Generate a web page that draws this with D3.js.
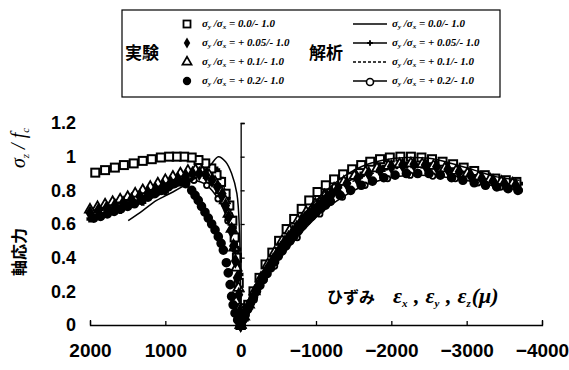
<!DOCTYPE html>
<html>
<head>
<meta charset="utf-8">
<script src="https://cdn.jsdelivr.net/npm/d3@7/dist/d3.min.js"></script>
<style>
  body { margin: 0; background: #fff; }
  svg { display: block; }
</style>
</head>
<body>
<script>
// strain (micro) vs axial stress ratio
// L = lateral strain branch (plotted on the + side), R = axial strain branch

// experiment
var expSquareL = [[0,0],[10,0.1],[25,0.25],[50,0.4],[80,0.52],[110,0.62],[150,0.71],[200,0.78],[260,0.85],[320,0.89],[390,0.93],[470,0.96],[560,0.98],[650,0.995],[750,1.0],[850,1.0],[950,1.0],[1060,0.995],[1180,0.985],[1300,0.975],[1420,0.96],[1550,0.95],[1670,0.935],[1800,0.92],[1930,0.905]];
var expSquareR = [[0,0],[-40,0.05],[-100,0.12],[-170,0.2],[-250,0.28],[-330,0.36],[-420,0.43],[-510,0.5],[-610,0.57],[-710,0.63],[-810,0.69],[-910,0.74],[-1020,0.79],[-1130,0.83],[-1240,0.865],[-1360,0.895],[-1480,0.925],[-1600,0.95],[-1720,0.97],[-1850,0.985],[-1980,0.995],[-2120,1.0],[-2260,1.0],[-2400,0.995],[-2540,0.985],[-2680,0.97],[-2820,0.955],[-2960,0.935],[-3100,0.915],[-3240,0.89],[-3380,0.87],[-3520,0.86],[-3660,0.85]];

var expDiamondL = [[0,0],[10,0.08],[25,0.18],[45,0.28],[70,0.38],[95,0.47],[125,0.56],[160,0.64],[200,0.71],[250,0.77],[310,0.82],[380,0.86],[460,0.89],[550,0.9],[640,0.9],[730,0.885],[830,0.865],[930,0.845],[1030,0.825],[1130,0.805],[1230,0.785],[1340,0.765],[1450,0.745],[1560,0.725],[1670,0.71],[1780,0.695],[1890,0.68],[2000,0.665]];
var expDiamondR = [[0,0],[-25,0.025],[-50,0.05],[-85,0.085],[-120,0.12],[-160,0.16],[-200,0.2],[-245,0.24],[-290,0.28],[-335,0.315],[-380,0.35],[-430,0.385],[-480,0.42],[-530,0.455],[-580,0.49],[-635,0.52],[-690,0.55],[-745,0.58],[-800,0.61],[-855,0.635],[-910,0.66],[-970,0.685],[-1030,0.71],[-1090,0.735],[-1150,0.76],[-1215,0.78],[-1280,0.8],[-1410,0.84],[-1550,0.87],[-1700,0.9],[-1850,0.92],[-2000,0.94],[-2150,0.95],[-2300,0.955],[-2450,0.95],[-2600,0.94],[-2750,0.925],[-2900,0.91],[-3050,0.89],[-3200,0.87],[-3350,0.855],[-3500,0.84],[-3650,0.83]];

var expTriangleL = [[0,0],[12,0.1],[30,0.22],[55,0.34],[85,0.46],[120,0.57],[160,0.66],[210,0.74],[270,0.8],[340,0.85],[420,0.89],[510,0.91],[600,0.92],[700,0.915],[800,0.9],[900,0.88],[1000,0.86],[1100,0.84],[1200,0.82],[1300,0.8],[1400,0.78],[1500,0.76],[1600,0.745],[1700,0.73],[1800,0.715],[1900,0.7],[2000,0.685]];
var expTriangleR = [[0,0],[-45,0.05],[-110,0.12],[-185,0.2],[-270,0.28],[-360,0.36],[-450,0.43],[-550,0.5],[-650,0.56],[-760,0.62],[-870,0.67],[-990,0.72],[-1110,0.77],[-1240,0.81],[-1370,0.85],[-1510,0.885],[-1660,0.91],[-1810,0.93],[-1960,0.945],[-2110,0.955],[-2260,0.96],[-2410,0.955],[-2560,0.945],[-2710,0.93],[-2860,0.915],[-3010,0.9],[-3160,0.88],[-3310,0.865],[-3460,0.85],[-3610,0.84]];

var expCircleL = [[0,0],[40,0.03],[75,0.07],[100,0.12],[120,0.17],[140,0.24],[165,0.31],[190,0.37],[230,0.445],[260,0.485],[297,0.525],[340,0.565],[385,0.6],[430,0.635],[474,0.67],[520,0.705],[563,0.74],[605,0.77],[650,0.8],[730,0.84],[800,0.85],[880,0.84],[960,0.82],[1050,0.8],[1140,0.78],[1230,0.76],[1320,0.74],[1410,0.72],[1500,0.705],[1590,0.69],[1680,0.675],[1770,0.66],[1860,0.645],[1950,0.635]];
var expCircleR = [[0,0],[-30,0.03],[-60,0.06],[-95,0.095],[-130,0.13],[-170,0.165],[-210,0.2],[-255,0.235],[-300,0.27],[-350,0.305],[-400,0.34],[-450,0.375],[-500,0.41],[-550,0.44],[-600,0.47],[-655,0.5],[-710,0.53],[-765,0.56],[-820,0.59],[-880,0.62],[-940,0.645],[-1000,0.668],[-1060,0.69],[-1125,0.713],[-1190,0.735],[-1320,0.77],[-1460,0.8],[-1600,0.83],[-1750,0.855],[-1900,0.875],[-2050,0.89],[-2200,0.9],[-2350,0.9],[-2500,0.9],[-2650,0.89],[-2800,0.875],[-2950,0.86],[-3100,0.845],[-3250,0.83],[-3400,0.82],[-3550,0.81],[-3680,0.8]];

// analysis
var anaSolidL = [[0,0],[5,0.3],[15,0.55],[50,0.78],[120,0.9],[200,0.97],[297,1.0],[400,0.95],[500,0.91],[673,0.85],[900,0.79],[1116,0.74],[1300,0.68],[1493,0.62]];
var anaSolidR = [[0,0],[-150,0.16],[-400,0.38],[-700,0.58],[-1000,0.74],[-1300,0.86],[-1600,0.94],[-1900,0.98],[-2200,0.995],[-2500,0.99],[-2800,0.96],[-3100,0.92],[-3400,0.88],[-3700,0.86]];
var anaStarL = [[0,0],[10,0.3],[40,0.45],[98,0.58],[180,0.75],[250,0.86],[319,0.92],[400,0.93],[500,0.91],[700,0.86],[1000,0.79],[1300,0.73],[1600,0.68],[2000,0.63]];
var anaStarR = [[0,0],[-150,0.15],[-400,0.36],[-700,0.56],[-1000,0.71],[-1300,0.82],[-1600,0.89],[-1900,0.93],[-2200,0.95],[-2500,0.945],[-2800,0.92],[-3100,0.89],[-3400,0.86],[-3700,0.84]];
var anaDotL = [[0,0],[15,0.3],[50,0.5],[120,0.68],[220,0.8],[350,0.88],[480,0.91],[600,0.905],[800,0.87],[1100,0.81],[1400,0.76],[1700,0.72],[2000,0.68]];
var anaDotR = [[0,0],[-160,0.15],[-420,0.36],[-720,0.55],[-1020,0.7],[-1320,0.81],[-1620,0.88],[-1920,0.92],[-2220,0.935],[-2520,0.93],[-2820,0.91],[-3120,0.88],[-3420,0.85],[-3700,0.83]];
var anaRingL = [[0,0],[25,0.25],[80,0.45],[170,0.62],[300,0.75],[450,0.83],[620,0.86],[800,0.85],[1100,0.8],[1400,0.75],[1700,0.71],[2000,0.67]];
var anaRingR = [[0,0],[-180,0.15],[-450,0.35],[-750,0.52],[-1050,0.66],[-1350,0.76],[-1650,0.83],[-1950,0.87],[-2250,0.89],[-2550,0.885],[-2850,0.87],[-3150,0.845],[-3450,0.82],[-3700,0.8]];

var xTicks = [2000, 1000, 0, -1000, -2000, -3000, -4000];
var yTicks = [0, 0.2, 0.4, 0.6, 0.8, 1, 1.2];
var ratioLabels = ["0.0/- 1.0", "+ 0.05/- 1.0", "+ 0.1/- 1.0", "+ 0.2/- 1.0"];

var width = 569, height = 370;
var serif = "'Liberation Serif', 'Times New Roman', serif";
var cjk = "'Noto Sans CJK JP', sans-serif";

var svg = d3.select("body").append("svg")
    .attr("width", width)
    .attr("height", height);

var x = d3.scaleLinear().domain([2000, -4000]).range([90, 542]);
var y = d3.scaleLinear().domain([0, 1.2]).range([325, 123]);

// x axis, ticks pointing up, ends turned up
var xAxis = svg.append("g")
    .attr("transform", "translate(0," + y(0) + ")")
    .call(d3.axisBottom(x)
        .tickValues(xTicks)
        .tickSizeInner(-4)
        .tickSizeOuter(-5)
        .tickPadding(19)
        .tickFormat(d3.format("d")));
xAxis.selectAll("text")
    .attr("fill", "#000")
    .style("font-family", "'Liberation Sans', Arial, sans-serif")
    .style("font-weight", "bold")
    .style("font-size", "19px");

// y axis sits at strain 0, labels far to the left
var yAxis = svg.append("g")
    .attr("transform", "translate(" + x(0) + ",0)")
    .call(d3.axisLeft(y)
        .tickValues(yTicks)
        .tickSizeInner(-4)
        .tickSizeOuter(-4)
        .tickPadding(x(0) - 76)
        .tickFormat(d3.format("")));
yAxis.selectAll("text")
    .attr("fill", "#000")
    .style("font-family", "'Liberation Sans', Arial, sans-serif")
    .style("font-weight", "bold")
    .style("font-size", "18px");
svg.selectAll(".domain, .tick line").attr("stroke", "#000").attr("stroke-width", 1.3);

var line = d3.line()
    .x(function(d) { return x(d[0]); })
    .y(function(d) { return y(d[1]); })
    .curve(d3.curveCatmullRom);

var plot = svg.append("g");

// analysis curves go under the markers
function curve(data, dash) {
  plot.append("path")
    .datum(data)
    .attr("d", line)
    .attr("fill", "none")
    .attr("stroke", "#000")
    .attr("stroke-width", 1.5)
    .attr("stroke-dasharray", dash);
}

// experiment markers
function squares(data) {
  plot.selectAll(null).data(data).enter().append("rect")
    .attr("x", function(d) { return x(d[0]) - 4; })
    .attr("y", function(d) { return y(d[1]) - 4; })
    .attr("width", 8).attr("height", 8)
    .attr("fill", "#fff").attr("stroke", "#000").attr("stroke-width", 2);
}
function symbols(data, type, size, filled) {
  plot.selectAll(null).data(data).enter().append("path")
    .attr("transform", function(d) { return "translate(" + x(d[0]) + "," + y(d[1]) + ")"; })
    .attr("d", d3.symbol().type(type).size(size))
    .attr("fill", filled ? "#000" : "#fff")
    .attr("stroke", "#000").attr("stroke-width", 1.8);
}

[anaDotL, anaDotR].forEach(function(d) { curve(d, "3,2"); });
[anaStarL, anaStarR].forEach(function(d) { curve(d, null); symbols(d.slice(1), d3.symbolCross, 16, true); });
[anaRingL, anaRingR].forEach(function(d) { curve(d, null); symbols(d.slice(1), d3.symbolCircle, 24, false); });

squares(expSquareL); squares(expSquareR);
symbols(expTriangleL, d3.symbolTriangle, 44, false);
symbols(expTriangleR, d3.symbolTriangle, 44, false);
symbols(expDiamondL, d3.symbolDiamond, 42, true);
symbols(expDiamondR, d3.symbolDiamond, 42, true);
symbols(expCircleL, d3.symbolCircle, 48, true);
symbols(expCircleR, d3.symbolCircle, 48, true);

// solid analysis stays visible on top, as in the scan
[anaSolidL, anaSolidR].forEach(function(d) { curve(d, null); });

// axis titles
svg.append("text")
    .attr("transform", "translate(25,252) rotate(-90)")
    .attr("text-anchor", "middle")
    .style("font-family", cjk)
    .style("font-weight", "bold")
    .style("font-size", "16px")
    .text("軸応力");

var yTitle = svg.append("text")
    .attr("transform", "translate(25,148) rotate(-90)")
    .attr("text-anchor", "middle")
    .style("font-family", serif)
    .style("font-style", "italic");
yTitle.append("tspan").style("font-size", "20px").text("σ");
yTitle.append("tspan").attr("dy", 4).style("font-size", "11px").text("z");
yTitle.append("tspan").attr("dy", -4).style("font-size", "20px").text(" / f");
yTitle.append("tspan").attr("dy", 4).style("font-size", "11px").text("c");

var xTitle = svg.append("text")
    .attr("x", 327).attr("y", 303)
    .attr("fill", "#000");
xTitle.append("tspan")
    .style("font-family", cjk)
    .style("font-weight", "bold")
    .style("font-size", "16px")
    .text("ひずみ");
var epsParts = [["ε", "x", " ,"], ["ε", "y", " ,"], ["ε", "z", "(μ)"]];
epsParts.forEach(function(p, i) {
  xTitle.append("tspan").attr("dx", i == 0 ? 18 : 6)
      .style("font-family", serif)
      .style("font-style", "italic").style("font-weight", "bold")
      .style("font-size", "22px").text(p[0]);
  xTitle.append("tspan").attr("dy", 4)
      .style("font-family", serif)
      .style("font-style", "italic").style("font-weight", "bold")
      .style("font-size", "11px").text(p[1]);
  xTitle.append("tspan").attr("dy", -4).attr("dx", 1)
      .style("font-family", serif)
      .style("font-style", "italic").style("font-weight", "bold")
      .style("font-size", "22px").text(p[2]);
});

// legend
var legend = svg.append("g");
legend.append("rect")
    .attr("x", 122).attr("y", 10).attr("width", 378).attr("height", 87)
    .attr("fill", "#fff").attr("stroke", "#000").attr("stroke-width", 1.2);
legend.append("text").attr("x", 125).attr("y", 59)
    .style("font-family", cjk)
    .style("font-weight", "bold").style("font-size", "17px")
    .text("実験");
legend.append("text").attr("x", 309).attr("y", 59)
    .style("font-family", cjk)
    .style("font-weight", "bold").style("font-size", "17px")
    .text("解析");

var rowY = [24, 43, 62, 81];
function ratioText(tx, ty, label) {
  var t = legend.append("text").attr("x", tx).attr("y", ty + 3)
      .style("font-family", serif)
      .style("font-weight", "bold").style("font-style", "italic")
      .style("font-size", "11px");
  t.append("tspan").text("σ");
  t.append("tspan").attr("dy", 2).style("font-size", "7px").text("y");
  t.append("tspan").attr("dy", -2).text(" /σ");
  t.append("tspan").attr("dy", 2).style("font-size", "7px").text("x");
  t.append("tspan").attr("dy", -2).text(" = " + label);
}
var legSym = [
  function(g) { g.append("rect").attr("x", -3.5).attr("y", -3.5).attr("width", 7).attr("height", 7).attr("fill", "#fff").attr("stroke", "#000").attr("stroke-width", 1.8); },
  function(g) { g.append("path").attr("d", d3.symbol().type(d3.symbolDiamond).size(36)).attr("fill", "#000"); },
  function(g) { g.append("path").attr("d", d3.symbol().type(d3.symbolTriangle).size(36)).attr("fill", "#fff").attr("stroke", "#000").attr("stroke-width", 1.7); },
  function(g) { g.append("path").attr("d", d3.symbol().type(d3.symbolCircle).size(55)).attr("fill", "#000"); }
];
rowY.forEach(function(ry, i) {
  legSym[i](legend.append("g").attr("transform", "translate(187," + ry + ")"));
  ratioText(202, ry, ratioLabels[i]);

  var lg = legend.append("g").attr("transform", "translate(0," + ry + ")");
  lg.append("line").attr("x1", 353).attr("x2", 387).attr("y1", 0).attr("y2", 0)
    .attr("stroke", "#000").attr("stroke-width", 1.6)
    .attr("stroke-dasharray", i == 2 ? "3,2" : null);
  if (i == 1) lg.append("path").attr("transform", "translate(370,0)")
      .attr("d", d3.symbol().type(d3.symbolCross).size(18)).attr("fill", "#000");
  if (i == 3) lg.append("circle").attr("cx", 370).attr("cy", 1).attr("r", 3.5)
      .attr("fill", "#fff").attr("stroke", "#000").attr("stroke-width", 1.6);
  ratioText(392, ry, ratioLabels[i]);
});
</script>
</body>
</html>
